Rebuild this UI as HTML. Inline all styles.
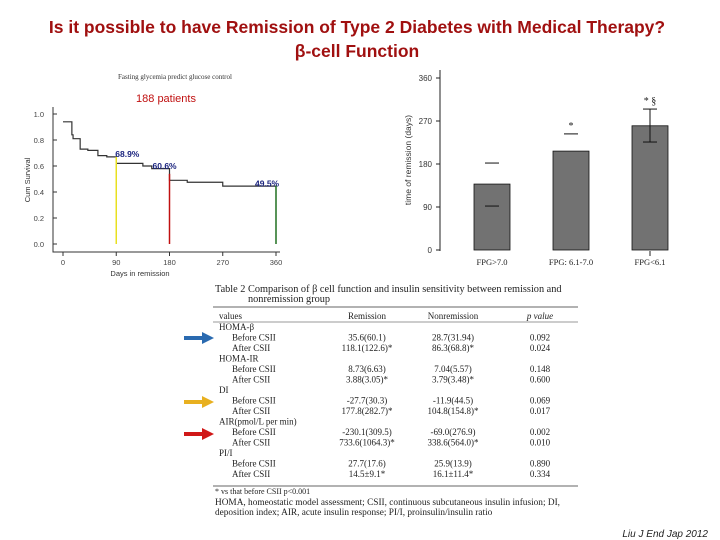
<!DOCTYPE html>
<html><head><meta charset="utf-8"><style>
body{margin:0;background:#fff;}
svg{display:block;font-family:"Liberation Sans",sans-serif;}
.t{font-family:"Liberation Serif",serif;font-size:9px;fill:#222;}
</style></head><body>
<svg id="s" width="720" height="540" viewBox="0 0 720 540">
<text x="357" y="33" text-anchor="middle" font-size="17.5" font-weight="bold" fill="#a01010">Is it possible to have Remission of Type 2 Diabetes with Medical Therapy?</text>
<text x="357" y="57" text-anchor="middle" font-size="17.5" font-weight="bold" fill="#a01010">β-cell Function</text>
<g id="km"></g>
<g id="bar"></g>
<g id="tbl"></g>
<text x="708" y="537" text-anchor="end" font-size="10" font-style="italic" fill="#222">Liu J End Jap 2012</text>
</svg>
<script>
// KM data
const kmDays=[0,15,17,29,42,59,74,90,135,150,180,210,270,360];
const kmSurv=[0.94,0.84,0.81,0.73,0.72,0.68,0.67,0.62,0.60,0.58,0.49,0.475,0.445,0.445];
const kmTicks=[0,90,180,270,360];
const kmYTicks=[0,0.2,0.4,0.6,0.8,1.0];
const kmMarkDays=[90,180,360];
const kmMarkVals=[0.67,0.54,0.45];
const kmMarkLabels=["68.9%","60.6%","49.5%"];
const kmMarkColors=["#e8e020","#c01010","#207020"];
// bar data
const barCats=["FPG>7.0","FPG: 6.1-7.0","FPG<6.1"];
const barVals=[138,207,260];
const barHi=[182,243,295];
const barLo=[92,null,226];
const barSig=["","*","* §"];
const barTicks=[0,90,180,270,360];
const barTickLabels=["0","90","180","270","360"];

const NS="http://www.w3.org/2000/svg";
function mk(p,tag,a,txt){const e=document.createElementNS(NS,tag);for(const k in a)e.setAttribute(k,a[k]);if(txt!==undefined)e.textContent=txt;p.appendChild(e);return e;}

// KM chart
const km=document.getElementById('km');
const kx=d=>63+213*d/360, ky=v=>244-130*v;
let t=mk(km,'text',{x:175,y:79,'text-anchor':'middle','font-size':7,'font-family':'Liberation Serif,serif',fill:'#333'},'Fasting glycemia predict glucose control');


t=mk(km,'text',{x:166,y:102,'text-anchor':'middle','font-size':11,fill:'#c01010'},'188 patients');


let ax=mk(km,'path',{d:'M53 107V252H280',stroke:'#333',fill:'none','stroke-width':1});


kmYTicks.forEach(v=>{
 mk(km,'line',{x1:53,x2:57,y1:ky(v),y2:ky(v),stroke:'#333'});
 const l=mk(km,'text',{x:44,y:ky(v)+3,'text-anchor':'end','font-size':7.5,fill:'#444'},v.toFixed(1));
 
 
});
kmTicks.forEach(d=>{
 mk(km,'line',{x1:kx(d),x2:kx(d),y1:252,y2:256,stroke:'#333'});
 const l=mk(km,'text',{x:kx(d),y:265,'text-anchor':'middle','font-size':7.5,fill:'#444'},d);
 
 
});
t=mk(km,'text',{x:140,y:276,'text-anchor':'middle','font-size':7.5,fill:'#333'},'Days in remission');


t=mk(km,'text',{x:30,y:180,'text-anchor':'middle','font-size':7.5,fill:'#333',transform:'rotate(-90 30 180)'},'Cum Survival');


let d='M'+kx(kmDays[0])+' '+ky(kmSurv[0]);
for(let i=1;i<kmDays.length;i++){d+='H'+kx(kmDays[i])+'V'+ky(kmSurv[i]);}
let sl=mk(km,'path',{d:d,stroke:'#333',fill:'none','stroke-width':1.2});


const lblDx=[-1,-17,-21], lblDy=[0,-5,1];
kmMarkDays.forEach((dd,i)=>{
 const l=mk(km,'line',{x1:kx(dd),x2:kx(dd),y1:ky(0),y2:ky(kmMarkVals[i]),stroke:kmMarkColors[i],'stroke-width':1.5});
 
 
 const tx=mk(km,'text',{x:kx(dd)+lblDx[i],y:ky(kmMarkVals[i])+lblDy[i],'font-size':8.5,'font-weight':'bold',fill:'#1a237e'},kmMarkLabels[i]);
 
 
});

// Bar chart
const bc=document.getElementById('bar');
const by=v=>250-v*172/360;
const bx=i=>474+i*79;
ax=mk(bc,'path',{d:'M440 70V251',stroke:'#222',fill:'none'});


barTicks.forEach((v,i)=>{
 mk(bc,'line',{x1:436,x2:440,y1:by(v),y2:by(v),stroke:'#222'});
 const l=mk(bc,'text',{x:432,y:by(v)+3,'text-anchor':'end','font-size':8,fill:'#333'},barTickLabels[i]);
 
 
});
t=mk(bc,'text',{x:411,y:160,'text-anchor':'middle','font-size':8.5,fill:'#333',transform:'rotate(-90 411 160)'},'time of remission (days)');


barCats.forEach((c,i)=>{
 const x=bx(i);
 const r=mk(bc,'rect',{x:x,y:by(barVals[i]),width:36,height:by(0)-by(barVals[i]),fill:'#727272',stroke:'#111','stroke-width':0.8});
 
 
 const cx=x+18;
 mk(bc,'line',{x1:cx-7,x2:cx+7,y1:by(barHi[i]),y2:by(barHi[i]),stroke:'#111','stroke-width':1});
 if(barLo[i]!==null){
  mk(bc,'line',{x1:cx-7,x2:cx+7,y1:by(barLo[i]),y2:by(barLo[i]),stroke:'#111','stroke-width':1});
  if(i==2) mk(bc,'line',{x1:cx,x2:cx,y1:by(barHi[i]),y2:by(barLo[i]),stroke:'#111'});
 }
 if(barSig[i]){
  const s=mk(bc,'text',{x:cx,y:by(barHi[i])-5,'text-anchor':'middle','font-size':10,'font-family':'Liberation Serif,serif',fill:'#222'},barSig[i]);
  
  
 }
 const l=mk(bc,'text',{x:cx,y:265,'text-anchor':'middle','font-size':8.5,'font-family':'Liberation Serif,serif',fill:'#222'},c);
 
 
});
mk(bc,'line',{x1:650,x2:650,y1:251,y2:256,stroke:'#222'});

// Table
const tb=document.getElementById('tbl');
const rows=[["HOMA-β","","","",0],["Before CSII","35.6(60.1)","28.7(31.94)","0.092",1],["After CSII","118.1(122.6)*","86.3(68.8)*","0.024",1],
["HOMA-IR","","","",0],["Before CSII","8.73(6.63)","7.04(5.57)","0.148",1],["After CSII","3.88(3.05)*","3.79(3.48)*","0.600",1],
["DI","","","",0],["Before CSII","-27.7(30.3)","-11.9(44.5)","0.069",1],["After CSII","177.8(282.7)*","104.8(154.8)*","0.017",1],
["AIR(pmol/L per min)","","","",0],["Before CSII","-230.1(309.5)","-69.0(276.9)","0.002",1],["After CSII","733.6(1064.3)*","338.6(564.0)*","0.010",1],
["PI/I","","","",0],["Before CSII","27.7(17.6)","25.9(13.9)","0.890",1],["After CSII","14.5±9.1*","16.1±11.4*","0.334",1]];
function tt(x,y,s,anchor,name,extra){const e=mk(tb,'text',Object.assign({x:x,y:y,class:'t','text-anchor':anchor||'start'},extra||{}),s);return e;}
tt(215,292,'Table 2  Comparison of β cell function and insulin sensitivity between remission and','start','table-caption',{style:'font-size:10.3px'});
tt(248,302,'nonremission group','start','table-caption-2',{style:'font-size:10.3px'});
mk(tb,'line',{x1:213,x2:578,y1:307,y2:307,stroke:'#333','stroke-width':0.8});
tt(219,319,'values','start','header-values');
tt(367,319,'Remission','middle','header-remission');
tt(453,319,'Nonremission','middle','header-nonremission');
tt(540,319,'p value','middle','header-p',{'font-style':'italic'});
mk(tb,'line',{x1:213,x2:578,y1:322,y2:322,stroke:'#333','stroke-width':0.6});
rows.forEach((r,i)=>{
 const y=330+i*10.5;
 tt(r[4]?232:219,y,r[0],'start','row-label');
 if(r[1]){tt(367,y,r[1],'middle','remission-value');tt(453,y,r[2],'middle','nonremission-value');tt(540,y,r[3],'middle','p-value');}
});
mk(tb,'line',{x1:213,x2:578,y1:486,y2:486,stroke:'#333','stroke-width':0.8});
tt(215,494,'* vs that before CSII p<0.001','start','footnote-1',{style:'font-size:8px'});
tt(215,505,'HOMA, homeostatic model assessment; CSII, continuous subcutaneous insulin infusion; DI,','start','footnote-2',{style:'font-size:9.3px'});
tt(215,515,'deposition index; AIR, acute insulin response; PI/I, proinsulin/insulin ratio','start','footnote-3',{style:'font-size:9.3px'});
[[338,'#2a6ab0','arrow-blue'],[402,'#e8b020','arrow-yellow'],[434,'#d01818','arrow-red']].forEach(a=>{
 const p=mk(tb,'path',{d:`M184 ${a[0]-2}H202V${a[0]-6}L214 ${a[0]}L202 ${a[0]+6}V${a[0]+2}H184Z`,fill:a[1]});
 
 
});
</script>
</body></html>
